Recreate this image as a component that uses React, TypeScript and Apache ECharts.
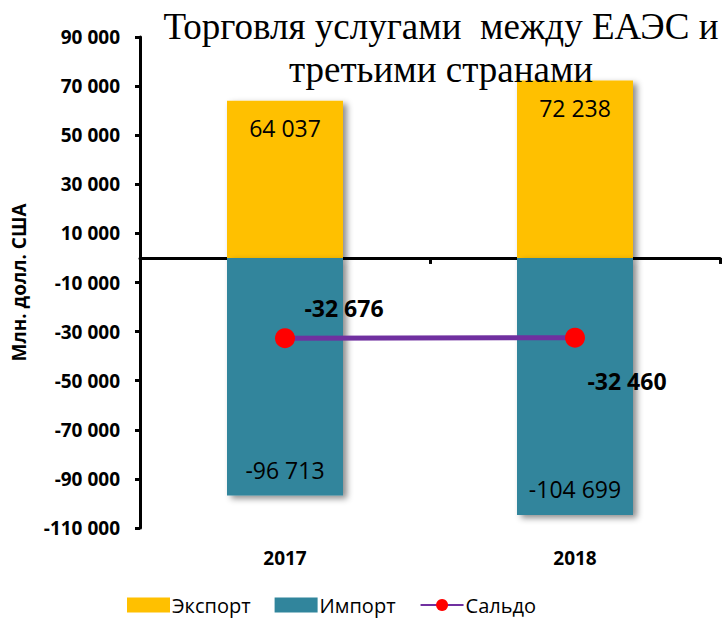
import React, { useEffect, useRef } from "react";
import * as echarts from "echarts";

const categories = ["2017", "2018"];
const exportValues = [64037, 72238];
const importValues = [-96713, -104699];
const saldoValues = [-32676, -32460];
const yTicks = [-110000, -90000, -70000, -50000, -30000, -10000, 10000, 30000, 50000, 70000, 90000];
const saldoLabelOffsets = [[59, -30], [52, 43]];

const fmt = (v: number) => {
  const s = Math.abs(Math.round(v)).toString().replace(/\B(?=(\d{3})+(?!\d))/g, " ");
  return (v < 0 ? "-" : "") + s;
};

export default function App() {
  const ref = useRef<HTMLDivElement>(null);
  useEffect(() => {
    if (!ref.current) return;
    const chart = echarts.init(ref.current, undefined, { renderer: "svg" });
    const font = "'Open Sans', sans-serif";
    chart.setOption({
      animation: false,
      backgroundColor: "#ffffff",
      graphic: [
        {
          type: "text",
          x: 441,
          y: 5,
          style: {
            text: "Торговля услугами  между ЕАЭС и\nтретьими странами",
            textAlign: "center",
            fontFamily: "'Liberation Serif', 'Times New Roman', serif",
            fontSize: 37,
            lineHeight: 43,
            fill: "#000",
          },
          z: 10,
        },
      ],
      grid: { left: 140, right: 3, top: 37, bottom: 91 },
      legend: {
        left: 127,
        top: 595,
        itemWidth: 43,
        itemHeight: 15,
        itemGap: 24,
        padding: 0,
        textStyle: { fontFamily: font, fontSize: 20, lineHeight: 20, color: "#000", padding: [0, 0, 0, -3] },
        data: [
          { name: "Экспорт", icon: "rect" },
          { name: "Импорт", icon: "rect" },
          { name: "Сальдо" },
        ],
      },
      xAxis: [
        {
          type: "category",
          data: categories,
          position: "bottom",
          axisLine: { onZero: true, lineStyle: { color: "#000", width: 3 } },
          axisTick: { show: true, length: 6, lineStyle: { color: "#000", width: 3 } },
          axisLabel: { show: false },
        },
        {
          type: "category",
          data: categories,
          position: "bottom",
          axisLine: { show: false, onZero: false },
          axisTick: { show: false },
          axisLabel: { margin: 20, fontFamily: font, fontWeight: "bold", fontSize: 19, color: "#000" },
        },
      ],
      yAxis: {
        type: "value",
        min: -110000,
        max: 90000,
        name: "Млн. долл. США",
        nameLocation: "middle",
        nameGap: 112,
        nameTextStyle: { fontFamily: font, fontWeight: "bold", fontSize: 19, color: "#000" },
        splitLine: { show: false },
        axisLine: { show: true, lineStyle: { color: "#000", width: 3 } },
        axisTick: { show: true, customValues: yTicks, length: 5, lineStyle: { color: "#000", width: 3 } },
        axisLabel: {
          customValues: yTicks,
          margin: 20,
          formatter: (v: number) => fmt(v),
          fontFamily: font,
          fontWeight: "bold",
          fontSize: 19,
          color: "#000",
        },
      },
      series: [
        {
          name: "Экспорт",
          type: "bar",
          stack: "a",
          barWidth: "40%",
          data: exportValues,
          itemStyle: {
            color: "#FFC000",
            shadowColor: "rgba(0,0,0,0.45)",
            shadowBlur: 6,
            shadowOffsetX: 4,
            shadowOffsetY: 3,
          },
          label: {
            show: true,
            position: "insideTop",
            distance: 16,
            formatter: (p: any) => fmt(p.value),
            fontFamily: font,
            fontSize: 23,
            color: "#000",
          },
        },
        {
          name: "Импорт",
          type: "bar",
          stack: "a",
          barWidth: "40%",
          data: importValues,
          itemStyle: {
            color: "#31859C",
            shadowColor: "rgba(0,0,0,0.45)",
            shadowBlur: 6,
            shadowOffsetX: 4,
            shadowOffsetY: 3,
          },
          label: {
            show: true,
            position: "insideBottom",
            distance: 14,
            formatter: (p: any) => fmt(p.value),
            fontFamily: font,
            fontSize: 23,
            color: "#000",
          },
        },
        {
          name: "Сальдо",
          type: "line",
          z: 5,
          data: saldoValues.map((v, i) => ({
            value: v,
            label: { offset: saldoLabelOffsets[i] },
          })),
          symbol: "circle",
          symbolSize: 20,
          itemStyle: { color: "#FF0000" },
          lineStyle: { color: "#7030A0", width: 5 },
          label: {
            show: true,
            position: "inside",
            formatter: (p: any) => fmt(p.value),
            fontFamily: font,
            fontWeight: "bold",
            fontSize: 23,
            color: "#000",
          },
        },
      ],
    });
    return () => chart.dispose();
  }, []);
  return <div ref={ref} style={{ width: 723, height: 619, position: "absolute", left: 0, top: 0 }} />;
}
